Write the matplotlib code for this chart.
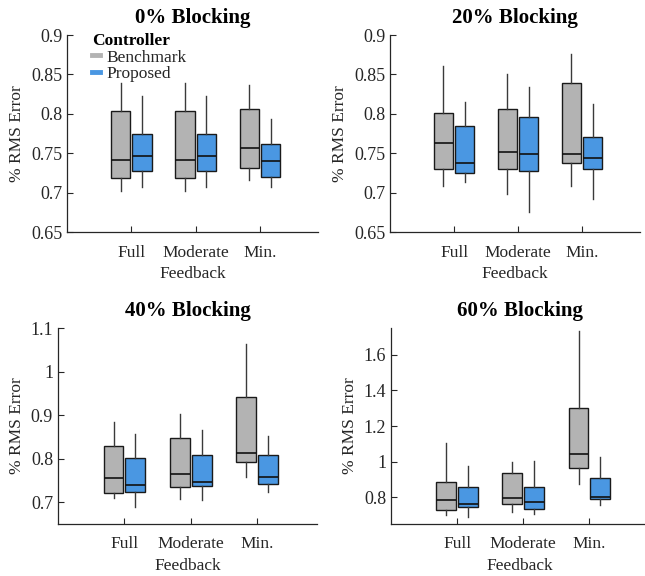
import matplotlib
matplotlib.use("Agg")
import matplotlib.pyplot as plt
from matplotlib.lines import Line2D

plt.rcParams['font.family'] = ['Liberation Serif', 'DejaVu Serif']

categories = ["Full", "Moderate", "Min."]
titles = ["0% Blocking", "20% Blocking", "40% Blocking", "60% Blocking"]
series_names = ["Benchmark", "Proposed"]

# each box: (whislo, q1, median, q3, whishi) for Full, Moderate, Min.
bench_0 = [(0.702, 0.719, 0.742, 0.804, 0.839),
           (0.702, 0.719, 0.742, 0.804, 0.839),
           (0.716, 0.731, 0.757, 0.806, 0.837)]
prop_0 = [(0.707, 0.727, 0.746, 0.774, 0.823),
          (0.707, 0.727, 0.746, 0.774, 0.823),
          (0.707, 0.720, 0.740, 0.762, 0.794)]
bench_20 = [(0.708, 0.730, 0.763, 0.801, 0.861),
            (0.698, 0.730, 0.752, 0.806, 0.851),
            (0.709, 0.738, 0.749, 0.839, 0.876)]
prop_20 = [(0.713, 0.725, 0.738, 0.785, 0.815),
           (0.675, 0.727, 0.749, 0.796, 0.834),
           (0.692, 0.730, 0.744, 0.771, 0.812)]
bench_40 = [(0.710, 0.721, 0.755, 0.829, 0.885),
            (0.708, 0.736, 0.765, 0.848, 0.903),
            (0.758, 0.792, 0.812, 0.942, 1.064)]
prop_40 = [(0.690, 0.724, 0.740, 0.801, 0.857),
           (0.706, 0.737, 0.747, 0.808, 0.867),
           (0.724, 0.742, 0.759, 0.808, 0.853)]
bench_60 = [(0.703, 0.729, 0.785, 0.884, 1.103),
            (0.716, 0.765, 0.796, 0.936, 0.997),
            (0.874, 0.967, 1.042, 1.304, 1.732)]
prop_60 = [(0.690, 0.744, 0.761, 0.860, 0.973),
           (0.707, 0.735, 0.776, 0.858, 1.005),
           (0.757, 0.793, 0.804, 0.908, 1.025)]

panels = [(bench_0, prop_0), (bench_20, prop_20), (bench_40, prop_40), (bench_60, prop_60)]
ylims = [(0.65, 0.9), (0.65, 0.9), (0.65, 1.1), (0.65, 1.75)]
yticks = [[0.65, 0.7, 0.75, 0.8, 0.85, 0.9],
          [0.65, 0.7, 0.75, 0.8, 0.85, 0.9],
          [0.7, 0.8, 0.9, 1.0, 1.1],
          [0.8, 1.0, 1.2, 1.4, 1.6]]
yticklabels = [["0.65", "0.7", "0.75", "0.8", "0.85", "0.9"],
               ["0.65", "0.7", "0.75", "0.8", "0.85", "0.9"],
               ["0.7", "0.8", "0.9", "1", "1.1"],
               ["0.8", "1", "1.2", "1.4", "1.6"]]

colors = ["#b3b3b3", "#4a97e2"]
positions_axes = [
    [0.1039, 0.5972, 0.389, 0.342],
    [0.6047, 0.5972, 0.387, 0.342],
    [0.0899, 0.0903, 0.402, 0.340],
    [0.6062, 0.0903, 0.400, 0.340],
]

fig = plt.figure(figsize=(6.45, 5.76), dpi=100)
axc = "#262626"
offsets = [-0.165, 0.165]
width = 0.30

for i, (data, ylim, yt, ytl, title) in enumerate(zip(panels, ylims, yticks, yticklabels, titles)):
    ax = fig.add_axes(positions_axes[i])
    for s, series in enumerate(data):
        stats = []
        for box in series:
            lo, q1, med, q3, hi = box
            stats.append(dict(med=med, q1=q1, q3=q3, whislo=lo, whishi=hi, fliers=[]))
        pos = [k + 1 + offsets[s] for k in range(len(categories))]
        ax.bxp(stats, positions=pos, widths=width, showcaps=False,
               showfliers=False, patch_artist=True, manage_ticks=False,
               boxprops=dict(facecolor=colors[s], edgecolor="#1a1a1a", linewidth=1.0),
               medianprops=dict(color="#111111", linewidth=1.2),
               whiskerprops=dict(color="#3a3a3a", linewidth=1.0))
    ax.set_xlim(0, 3.9)
    ax.set_ylim(*ylim)
    ax.set_yticks(yt)
    ax.set_yticklabels(ytl)
    ax.set_xticks([1, 2, 3])
    ax.set_xticklabels(categories)
    for sp in ["top", "right"]:
        ax.spines[sp].set_visible(False)
    for sp in ["left", "bottom"]:
        ax.spines[sp].set_color(axc)
        ax.spines[sp].set_linewidth(0.9)
    ax.tick_params(direction="in", length=4, width=0.8, color=axc,
                   labelcolor=axc, labelsize=13)
    ax.tick_params(axis="x", labelsize=12.5, pad=9)
    ax.set_ylabel("% RMS Error", fontsize=12.5, color=axc, labelpad=4)
    ax.set_xlabel("Feedback", fontsize=12.5, color=axc, labelpad=4)
    ax.set_title(title, fontsize=15, fontweight="bold", pad=9)

    if i == 0:
        handles = [Line2D([0], [0], color=colors[k], lw=3.5) for k in range(2)]
        leg = ax.legend(handles, series_names, title="Controller", loc="upper left",
                        bbox_to_anchor=(0.05, 1.07), frameon=False, fontsize=12.5,
                        handlelength=0.5, handletextpad=0.35, labelspacing=0.0,
                        borderpad=0.2, alignment="left")
        leg.get_title().set_fontweight("bold")
        leg.get_title().set_fontsize(12.5)
        for t in leg.get_texts():
            t.set_color(axc)

fig.savefig("out.png", dpi=100)
